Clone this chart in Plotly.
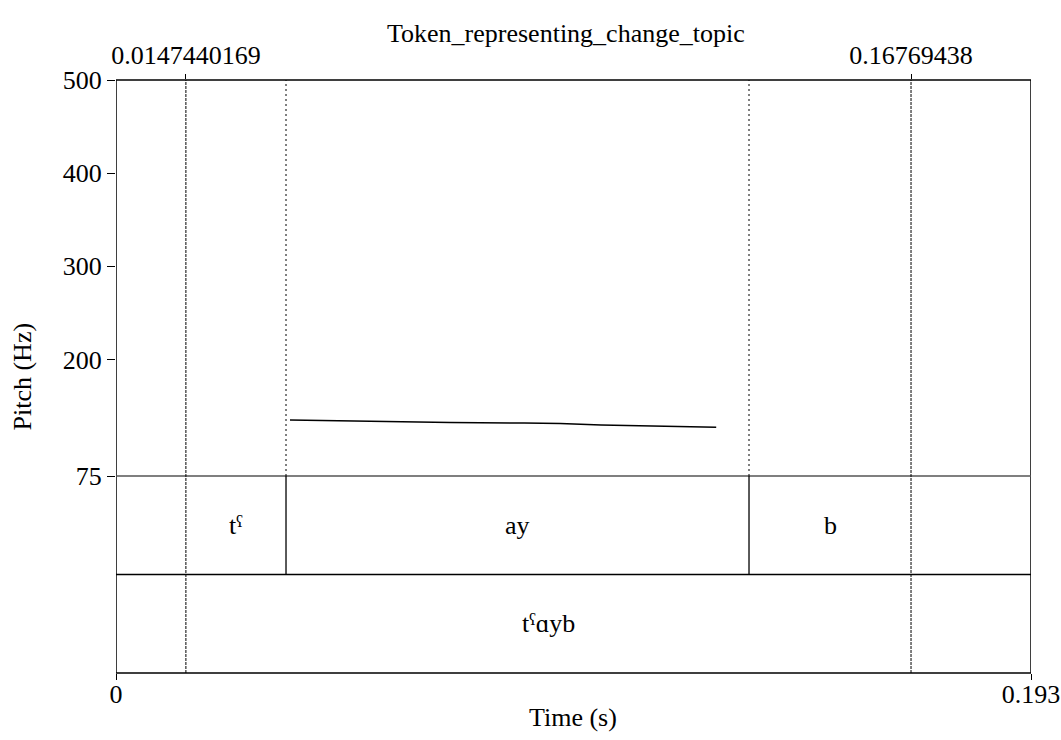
import plotly.graph_objects as go

# ---- data ----
x_range = [0.0, 0.193]
pitch_range = [75, 500]
pitch_ticks = [75, 200, 300, 400, 500]
x_ticks = [0.0, 0.193]
x_tick_labels = ["0", "0.193"]
top_ticks = [0.0147440169, 0.16769438]
top_tick_labels = ["0.0147440169", "0.16769438"]

pitch_times = [0.0367, 0.0494, 0.0612, 0.0705, 0.0861, 0.0937, 0.1023, 0.1105, 0.1183, 0.1266]
pitch_hz = [135.1, 134.0, 132.6, 132.4, 131.9, 131.4, 129.8, 128.9, 127.9, 127.3]

tier1_bounds = [0.0147440169, 0.03586, 0.13352, 0.16769438]
tier1_labels = ["tˤ", "ay", "b"]
tier2_bounds = [0.0147440169, 0.16769438]
tier2_labels = ["tˤɑyb"]

title_text = "Token_representing_change_topic"

FONT = "Liberation Serif, Times New Roman, serif"
FS = 26

W, H = 1061, 740
L, R, T, B = 116, 30, 80, 67
plot_h = H - T - B
plot_w = W - L - R
pitch_bottom_px = 476 - 80  # from plot top
split = (plot_h - pitch_bottom_px) / plot_h

fig = go.Figure()
fig.add_trace(go.Scatter(x=pitch_times, y=pitch_hz, mode="lines",
                         line=dict(color="black", width=1.5),
                         xaxis="x", yaxis="y", showlegend=False, hoverinfo="skip"))
# invisible trace for top axis
fig.add_trace(go.Scatter(x=top_ticks, y=[pitch_range[1]] * 2, mode="markers",
                         marker=dict(opacity=0), xaxis="x2", yaxis="y",
                         showlegend=False, hoverinfo="skip"))

shapes = []
shapes.append(dict(type="rect", xref="x", yref="paper", x0=x_range[0], x1=x_range[1],
                   y0=0, y1=1, line=dict(color="black", width=1.5)))
shapes.append(dict(type="line", xref="x", yref="paper", x0=x_range[0], x1=x_range[1],
                   y0=split, y1=split, line=dict(color="#555555", width=1.5)))
shapes.append(dict(type="line", xref="x", yref="y2", x0=x_range[0], x1=x_range[1],
                   y0=1, y1=1, line=dict(color="black", width=1.5)))
for b in tier2_bounds:
    shapes.append(dict(type="line", xref="x", yref="paper", x0=b, x1=b, y0=0, y1=1,
                       line=dict(color="black", width=1, dash="3px,1px")))
for b in tier1_bounds[1:-1]:
    shapes.append(dict(type="line", xref="x", yref="paper", x0=b, x1=b, y0=split, y1=1,
                       line=dict(color="black", width=1, dash="2px,3px")))
    shapes.append(dict(type="line", xref="x", yref="y2", x0=b, x1=b, y0=1, y1=2,
                       line=dict(color="black", width=1.3)))

def txt(**kw):
    d = dict(showarrow=False, xanchor="center", yanchor="middle",
             font=dict(family=FONT, size=FS, color="black"))
    d.update(kw)
    return d

annotations = []
for i, lab in enumerate(tier1_labels):
    annotations.append(txt(x=(tier1_bounds[i] + tier1_bounds[i + 1]) / 2, y=1.5,
                           xref="x", yref="y2", text=lab))
for i, lab in enumerate(tier2_labels):
    annotations.append(txt(x=(tier2_bounds[i] + tier2_bounds[i + 1]) / 2, y=0.5,
                           xref="x", yref="y2", text=lab))
annotations.append(txt(x=(566 - 116) / plot_w, y=1 + (80 - 33) / plot_h,
                       xref="paper", yref="paper", text=title_text))
annotations.append(txt(x=(573 - 116) / plot_w, y=-(717 - 673) / plot_h,
                       xref="paper", yref="paper", text="Time (s)"))
annotations.append(txt(x=-(116 - 22) / plot_w, y=0.5, xref="paper", yref="paper",
                       text="Pitch (Hz)", textangle=-90))

fig.update_layout(
    width=W, height=H, autosize=False,
    margin=dict(l=L, r=R, t=T, b=B, autoexpand=False),
    paper_bgcolor="white", plot_bgcolor="white",
    font=dict(family=FONT, size=FS, color="black"),
    shapes=shapes, annotations=annotations,
    xaxis=dict(range=x_range, anchor="y2", tickvals=x_ticks, ticktext=x_tick_labels,
               ticks="outside", ticklen=6, tickcolor="black", showgrid=False,
               zeroline=False, showline=False, ticklabelstandoff=-8, automargin=False),
    xaxis2=dict(range=x_range, overlaying="x", side="top", anchor="y",
                tickvals=top_ticks, ticktext=top_tick_labels, ticks="outside",
                ticklen=5, tickcolor="black", showgrid=False, zeroline=False,
                showline=False, automargin=False),
    yaxis=dict(range=pitch_range, domain=[split, 1], tickvals=pitch_ticks,
               ticks="outside", ticklen=8, tickcolor="black", showgrid=False,
               zeroline=False, showline=False, automargin=False),
    yaxis2=dict(range=[0, 2], domain=[0, split], showticklabels=False, ticks="",
                showgrid=False, zeroline=False, showline=False, automargin=False),
)

fig.write_html("out.html", config={"responsive": False, "displayModeBar": False},
               post_script="document.body.style.margin='0';document.body.style.overflow='hidden';")
